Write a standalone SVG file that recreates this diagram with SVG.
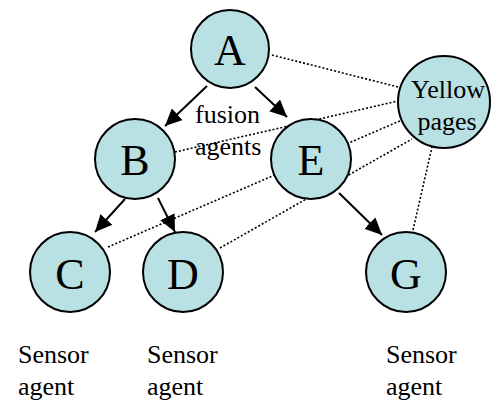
<svg xmlns="http://www.w3.org/2000/svg" width="491" height="404" viewBox="0 0 491 404">
<style>
.node{fill:#b9e0e2;stroke:#000;stroke-width:2}
.big{font-family:"Liberation Serif",serif;font-size:44px;text-anchor:middle;fill:#000}
.lbl{font-family:"Liberation Serif",serif;font-size:26px;fill:#000}
.dot{stroke:#000;stroke-width:1.6;stroke-dasharray:2,2;fill:none}
.arr{stroke:#000;stroke-width:2;fill:none;marker-end:url(#ah)}
</style>
<defs>
<marker id="ah" markerUnits="userSpaceOnUse" markerWidth="18" markerHeight="16" refX="17" refY="8" orient="auto">
<path d="M0,0 L17,8 L0,16 z" fill="#000"/>
</marker>
</defs>
<rect width="491" height="404" fill="#fff"/>
<g id="connectors">
<line class="dot" x1="272" y1="55" x2="398" y2="87"/>
<line class="dot" x1="175" y1="152" x2="398" y2="101"/>
<line class="dot" x1="108" y1="247" x2="402" y2="120"/>
<line class="dot" x1="220" y1="248" x2="412" y2="139"/>
<line class="dot" x1="413" y1="230" x2="432" y2="147"/>
<line class="arr" x1="207" y1="86" x2="165" y2="126"/>
<line class="arr" x1="255" y1="87" x2="287" y2="117"/>
<line class="arr" x1="125" y1="199" x2="95" y2="232"/>
<line class="arr" x1="158" y1="198" x2="175" y2="232"/>
<line class="arr" x1="339" y1="193" x2="382" y2="235"/>
</g>
<g id="node-A"><circle class="node" cx="230" cy="49" r="39"/><text class="big" x="230" y="65">A</text></g>
<g id="node-B"><circle class="node" cx="135" cy="159" r="40"/><text class="big" x="135" y="175">B</text></g>
<g id="node-E"><circle class="node" cx="311" cy="159" r="40"/><text class="big" x="311" y="175">E</text></g>
<g id="node-C"><circle class="node" cx="70" cy="272" r="40"/><text class="big" x="70" y="289">C</text></g>
<g id="node-D"><circle class="node" cx="183" cy="272" r="40"/><text class="big" x="183" y="289">D</text></g>
<g id="node-G"><circle class="node" cx="406" cy="272" r="40"/><text class="big" x="406" y="289">G</text></g>
<g id="node-YP"><circle class="node" cx="444" cy="102" r="46"/>
<text class="lbl" x="448" y="98" text-anchor="middle" font-size="25">Yellow</text>
<text class="lbl" x="447" y="130" text-anchor="middle" font-size="25">pages</text></g>
<g id="label-fusion"><text class="lbl" x="195" y="123">fusion</text><text class="lbl" x="195" y="155">agents</text></g>
<g id="label-C"><text class="lbl" x="18" y="363">Sensor</text><text class="lbl" x="18" y="395">agent</text></g>
<g id="label-D"><text class="lbl" x="147" y="363">Sensor</text><text class="lbl" x="147" y="395">agent</text></g>
<g id="label-G"><text class="lbl" x="386" y="363">Sensor</text><text class="lbl" x="386" y="395">agent</text></g>
</svg>
